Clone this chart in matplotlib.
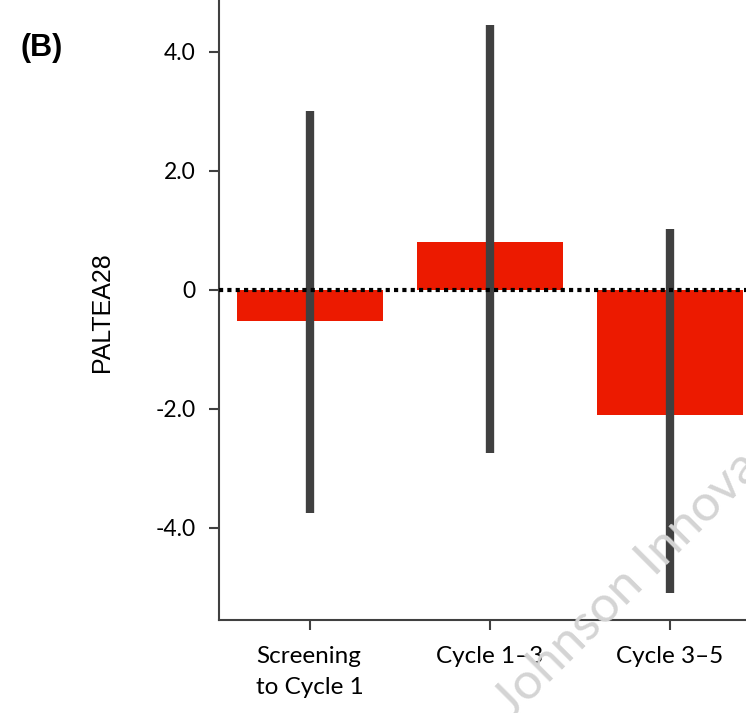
import matplotlib
matplotlib.use("Agg")
import matplotlib.pyplot as plt
import numpy as np

categories = ["Screening\nto Cycle 1", "Cycle 1–3", "Cycle 3–5"]
means = [-0.52, 0.80, -2.10]
ci_low = [-3.75, -2.75, -5.10]
ci_high = [3.00, 4.45, 1.02]
yticks = [-4.0, -2.0, 0, 2.0, 4.0]
ytick_labels = ["-4.0", "-2.0", "0", "2.0", "4.0"]

fig = plt.figure(figsize=(7.46, 7.13), dpi=100)
ax = fig.add_axes([219/746, 93/713, 542/746, 0.8804])

x = np.arange(len(categories))
ax.bar(x, means, width=0.81, color="#EC1A00", zorder=2)
yerr = [np.array(means) - np.array(ci_low), np.array(ci_high) - np.array(means)]
ax.errorbar(x, means, yerr=yerr, fmt="none", ecolor="#404040",
            elinewidth=6, capsize=0, zorder=3)
ax.axhline(0, color="black", linestyle=(0, (1, 1)), linewidth=3, zorder=4)

ax.set_xlim(-0.506, 2.506)
ax.set_ylim(-5.55, 5.0)
ax.set_xticks(x)
ax.set_xticklabels(categories, fontfamily="Lato", fontsize=17.5, linespacing=1.55)
ax.set_yticks(yticks)
ax.set_yticklabels(ytick_labels, fontfamily="Lato", fontsize=16.5)
for lab in ax.get_xticklabels():
    lab.set_horizontalalignment("center")
    lab.set_multialignment("left")

for s in ["top", "right"]:
    ax.spines[s].set_visible(False)
for s in ["left", "bottom"]:
    ax.spines[s].set_color("#404040")
    ax.spines[s].set_linewidth(1.5)
ax.tick_params(axis="both", direction="out", length=7, width=1.5,
               color="#404040", pad=12)
ax.tick_params(axis="y", pad=10)

ax.set_ylabel("PALTEA28", fontfamily="Liberation Sans", fontsize=18)
ax.yaxis.set_label_coords(-0.193, 0.49)

fig.text(20/746, 1 - 48/713, "(B)", fontsize=22, fontweight="bold",
         fontfamily="Liberation Sans", va="center", ha="left")

fig.text(627/746, 1 - 585/713, "Johnson Innova", fontsize=37,
         fontfamily="Lato", color="#d4d4d4", rotation=45,
         ha="center", va="center", zorder=0)

fig.savefig("out.png", dpi=100)
